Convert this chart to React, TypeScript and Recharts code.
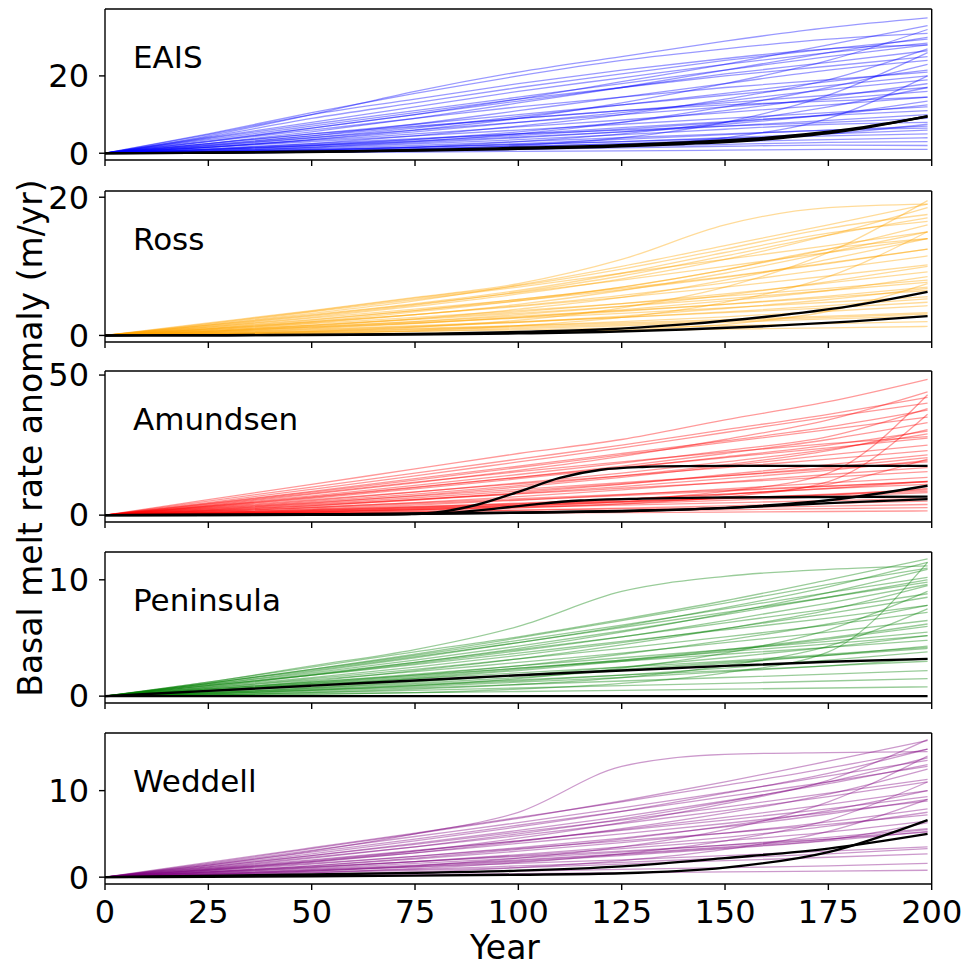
import React from 'react';
import { LineChart, Line, XAxis, YAxis, ReferenceLine } from 'recharts';

const years = [0, 25, 50, 75, 100, 125, 150, 175, 199];
const xTicks = [0, 25, 50, 75, 100, 125, 150, 175, 200];

const eaisRuns = [
  [0, 4.5, 10, 16, 21, 25, 29, 32.5, 35],
  [0, 5, 10.5, 15.5, 20, 24, 27, 29.5, 31],
  [0, 3, 6.5, 10, 14, 18.5, 23, 28, 33],
  [0, 2.5, 5.5, 9, 13, 17, 21.5, 26, 30],
  [0, 4, 8, 12, 16, 19.5, 23, 26, 28.5],
  [0, 1.5, 3.5, 6, 9, 13, 18, 24, 32],
  [0, 3.5, 7, 10.5, 14, 17, 20, 22.5, 25],
  [0, 2, 4.5, 7.5, 11, 14.5, 18, 21.5, 24],
  [0, 2.5, 5, 7.5, 10, 12.5, 15, 17.5, 20],
  [0, 1, 2.5, 4.5, 7, 10, 14, 19, 27],
  [0, 3, 6, 9, 12, 14.5, 17, 19, 21],
  [0, 1.5, 3.5, 5.5, 8, 10.5, 13.5, 16.5, 19],
  [0, 2, 4, 6, 8, 10, 12, 14, 16],
  [0, 0.5, 1.5, 3, 5, 8, 12, 17, 23],
  [0, 1.5, 3, 4.5, 6, 7.5, 9, 10.5, 12],
  [0, 2.5, 5, 7, 9, 11, 12.5, 13.5, 14.5],
  [0, 1, 2.2, 3.6, 5, 6.6, 8.2, 9.8, 11],
  [0, 0.8, 2, 3.5, 5.5, 8, 11, 14.5, 18],
  [0, 1.2, 2.5, 3.8, 5, 6, 7, 8, 9],
  [0, 0.6, 1.4, 2.4, 3.5, 4.8, 6.2, 7.5, 8],
  [0, 0.5, 1.2, 2, 3, 4, 5, 6, 7],
  [0, 0.3, 0.8, 1.5, 2.5, 3.6, 4.8, 6, 6.5],
  [0, 0.4, 1, 1.6, 2.3, 3, 3.8, 4.5, 5],
  [0, 0.3, 0.7, 1.2, 1.8, 2.4, 3, 3.5, 4],
  [0, 0.2, 0.5, 0.9, 1.3, 1.8, 2.3, 2.8, 3],
  [0, 0.1, 0.3, 0.6, 1, 1.4, 1.8, 2.1, 2],
  [0, 0.1, 0.2, 0.3, 0.5, 0.6, 0.8, 1, 1],
  [0, 0.2, 0.5, 1, 2, 4, 8, 15, 26],
  [0, 0.1, 0.3, 0.6, 1, 2, 4, 9, 20],
  [0, 4.2, 9, 13, 17, 20.5, 24, 27, 29.5],
  [0, 3.2, 6.5, 10, 13.5, 17, 20.5, 23.5, 26.5],
  [0, 1.8, 4, 6.5, 9.5, 12.5, 15.5, 18.5, 21.5],
  [0, 1, 2, 3.2, 4.6, 6.2, 8, 10, 12.5],
  [0, 2.2, 4.5, 6.8, 9, 11, 13, 15, 17],
  [0, 0.7, 1.6, 2.7, 4, 5.5, 7.5, 10, 13.5],
  [0, 4.8, 10, 14, 18, 21.5, 24.5, 27, 28],
  [0, 0.3, 0.8, 1.6, 3, 5, 8, 12, 17],
  [0, 3.8, 7.5, 11, 14.5, 18, 21.5, 25, 28],
  [0, 0.9, 1.9, 3, 4.2, 5.5, 7, 8.5, 10],
  [0, 0.4, 0.9, 1.5, 2.2, 3, 4, 5, 6],
  [0, 1.6, 3.3, 5, 6.8, 8.6, 10.5, 12.5, 14.5],
  [0, 0.2, 0.6, 1.1, 1.7, 2.5, 3.5, 5, 7.5],
];

const rossRuns = [
  [0, 1.8, 3.6, 5.5, 7.5, 11, 16, 18.5, 19],
  [0, 1.5, 3.2, 5, 7.3, 10, 13, 16, 19],
  [0, 1.2, 2.6, 4.2, 6, 8.2, 11, 14.5, 18.5],
  [0, 1.6, 3.4, 5.2, 7, 9, 11, 13, 15],
  [0, 1, 2.2, 3.6, 5.2, 7, 9.5, 12.5, 16],
  [0, 0.8, 1.8, 3, 4.5, 6.5, 9, 12, 15],
  [0, 1.2, 2.5, 3.8, 5.2, 6.8, 8.5, 10.5, 12.5],
  [0, 0.6, 1.4, 2.4, 3.8, 5.5, 8, 11, 14],
  [0, 1, 2, 3, 4.2, 5.5, 7, 8.6, 10.2],
  [0, 0.5, 1.2, 2, 3, 4.2, 5.8, 7.8, 10],
  [0, 0.8, 1.7, 2.6, 3.6, 4.6, 5.7, 6.8, 8],
  [0, 0.4, 1, 1.7, 2.6, 3.7, 5, 6.5, 8.5],
  [0, 0.6, 1.3, 2, 2.8, 3.6, 4.5, 5.5, 6.5],
  [0, 0.3, 0.7, 1.2, 1.9, 2.8, 3.9, 5.2, 6.8],
  [0, 0.4, 0.9, 1.4, 2, 2.6, 3.3, 4, 4.8],
  [0, 0.2, 0.5, 0.9, 1.4, 2, 2.7, 3.5, 4.3],
  [0, 0.3, 0.6, 1, 1.4, 1.8, 2.3, 2.8, 3.3],
  [0, 0.1, 0.3, 0.6, 1, 1.4, 1.9, 2.4, 2.8],
  [0, 0.2, 0.4, 0.6, 0.8, 1.1, 1.4, 1.7, 2],
  [0, 0.1, 0.2, 0.3, 0.5, 0.7, 0.9, 1.1, 1.3],
  [0, 0.2, 0.6, 1.2, 2.2, 4, 7, 12, 19.5],
  [0, 0.1, 0.3, 0.7, 1.4, 2.6, 4.8, 8.5, 15],
  [0, 1.4, 2.9, 4.5, 6.2, 8, 10, 12, 14],
  [0, 0.9, 1.9, 3, 4.3, 5.8, 7.6, 9.6, 11.5],
  [0, 1.1, 2.3, 3.6, 5, 6.6, 8.4, 10.4, 12.5],
  [0, 0.7, 1.5, 2.4, 3.4, 4.6, 6, 7.6, 9.2],
  [0, 1.7, 3.5, 5.4, 7.2, 9.6, 12.5, 15.5, 17.5],
  [0, 1.3, 2.8, 4.4, 6.3, 8.6, 11.5, 14.5, 17],
  [0, 0.5, 1.1, 1.8, 2.6, 3.5, 4.5, 5.7, 7],
  [0, 0.05, 0.1, 0.2, 0.4, 0.8, 1.6, 3.5, 7.5],
  [0, 0.9, 2, 3.4, 5, 7, 9.5, 12.5, 14],
  [0, 1.5, 3, 4.6, 6.5, 9, 12, 14.8, 16.5],
  [0, 0.2, 0.5, 0.8, 1.2, 1.6, 2.1, 2.6, 3.1],
  [0, 0.6, 1.2, 1.8, 2.5, 3.2, 4, 4.8, 5.6],
  [0, 0.35, 0.8, 1.3, 1.9, 2.6, 3.4, 4.3, 5.3],
  [0, 0.7, 1.5, 2.3, 3.2, 4.2, 5.3, 6.5, 7.7],
];

const amundsenRuns = [
  [0, 5.5, 11, 16.5, 22, 27, 34, 40.5, 48.5],
  [0, 5, 10, 15, 20, 25, 30.5, 36, 42],
  [0, 4.5, 9.2, 14, 19, 24, 29.5, 35, 40],
  [0, 3.5, 7.5, 11.5, 16, 21, 27, 34, 44],
  [0, 4, 8.2, 12.5, 17, 21.5, 26, 30.5, 35],
  [0, 3, 6.3, 9.8, 13.5, 17.5, 22, 27, 33],
  [0, 2.5, 5.2, 8.2, 11.5, 15, 19, 23.5, 29],
  [0, 3.2, 6.5, 10, 13.5, 17, 20.5, 24, 27.5],
  [0, 2, 4.3, 7, 10, 13.5, 17.5, 21.5, 25],
  [0, 2.7, 5.5, 8.3, 11.2, 14, 17, 20, 23],
  [0, 1.5, 3.3, 5.5, 8, 11, 14.5, 18, 21.5],
  [0, 2.2, 4.5, 6.8, 9.2, 11.6, 14, 16.5, 19],
  [0, 1.2, 2.7, 4.5, 6.6, 9, 11.8, 14.5, 17],
  [0, 1.8, 3.7, 5.6, 7.6, 9.6, 11.6, 13.6, 15.5],
  [0, 1, 2.2, 3.6, 5.3, 7.2, 9.4, 11.5, 13.5],
  [0, 1.4, 2.9, 4.4, 5.9, 7.4, 8.9, 10.4, 12],
  [0, 0.7, 1.6, 2.7, 4, 5.6, 7.5, 9.5, 11],
  [0, 1, 2, 3, 4, 5, 6.1, 7.2, 8.5],
  [0, 0.5, 1.1, 1.9, 2.9, 4, 5.3, 6.6, 8],
  [0, 0.6, 1.3, 2, 2.8, 3.6, 4.4, 5.2, 6],
  [0, 0.3, 0.7, 1.2, 1.8, 2.5, 3.3, 4.2, 5],
  [0, 0.4, 0.8, 1.2, 1.7, 2.2, 2.7, 3.2, 3.8],
  [0, 0.2, 0.5, 0.8, 1.1, 1.5, 1.9, 2.3, 2.7],
  [0, 0.1, 0.3, 0.5, 0.7, 0.9, 1.1, 1.3, 1.5],
  [0, 0.3, 0.8, 1.5, 2.5, 4, 6.5, 12, 36],
  [0, 0.5, 1.2, 2.2, 3.6, 5.5, 8.5, 15, 43],
  [0, 0.4, 1, 1.9, 3.1, 4.8, 7.2, 11, 20],
  [0, 2.3, 4.8, 7.5, 10.5, 14, 18, 23, 30.5],
  [0, 3.8, 7.8, 11.8, 15.5, 19, 22.5, 25.5, 28],
  [0, 1.6, 3.4, 5.4, 7.7, 10.2, 13, 16, 19.5],
  [0, 0.9, 1.9, 3, 4.3, 5.8, 7.5, 9.5, 12],
  [0, 4.2, 8.5, 13, 17.5, 22, 26.5, 31.5, 37.5],
  [0, 2.9, 6, 9.4, 13, 16.8, 20.8, 25, 30],
  [0, 1.3, 2.6, 4, 5.5, 7, 8.6, 10.3, 12],
  [0, 0.8, 1.7, 2.6, 3.6, 4.7, 5.9, 7.2, 9.5],
  [0, 3.3, 6.9, 10.6, 14.5, 18.6, 23, 28, 38],
  [0, 0.6, 1.4, 2.3, 3.4, 4.6, 6, 7.5, 9],
  [0, 1.9, 4, 6.2, 8.6, 11.2, 14, 17, 20.5],
];

const peninsulaRuns = [
  [0, 1.2, 2.6, 4, 6, 9, 10.3, 10.9, 11.2],
  [0, 1.2, 2.5, 3.8, 5.1, 6.6, 8.2, 10, 11.8],
  [0, 1, 2.1, 3.3, 4.6, 6, 7.6, 9.4, 11.5],
  [0, 1.1, 2.3, 3.5, 4.8, 6.1, 7.5, 8.9, 10.2],
  [0, 0.8, 1.8, 2.9, 4.1, 5.5, 7.1, 8.9, 10.9],
  [0, 0.9, 1.9, 2.9, 4, 5.1, 6.3, 7.5, 8.8],
  [0, 0.6, 1.3, 2.2, 3.2, 4.4, 5.8, 7.4, 9.5],
  [0, 0.7, 1.5, 2.3, 3.2, 4.1, 5.1, 6.1, 7.2],
  [0, 0.5, 1.1, 1.8, 2.6, 3.6, 4.8, 6.2, 7.8],
  [0, 0.6, 1.2, 1.9, 2.6, 3.3, 4, 4.7, 5.5],
  [0, 0.4, 0.9, 1.5, 2.2, 3, 3.9, 4.9, 6],
  [0, 0.5, 1, 1.5, 2, 2.5, 3, 3.6, 4.2],
  [0, 0.3, 0.7, 1.1, 1.6, 2.2, 2.8, 3.5, 4.3],
  [0, 0.3, 0.6, 1, 1.4, 1.8, 2.2, 2.6, 3],
  [0, 0.2, 0.4, 0.7, 1, 1.3, 1.6, 1.9, 2.2],
  [0, 0.1, 0.3, 0.5, 0.7, 0.9, 1.1, 1.3, 1.5],
  [0, 0.1, 0.2, 0.3, 0.4, 0.5, 0.6, 0.7, 0.8],
  [0, 0.2, 0.5, 0.9, 1.5, 2.4, 3.7, 5.7, 9],
  [0, 0.1, 0.3, 0.6, 1, 1.6, 2.6, 4.3, 7.5],
  [0, 0.05, 0.15, 0.3, 0.6, 1.1, 2, 3.8, 11.5],
  [0, 1.1, 2.2, 3.4, 4.6, 5.9, 7.2, 8.5, 9.8],
  [0, 0.9, 1.8, 2.7, 3.7, 4.7, 5.7, 6.7, 7.8],
  [0, 0.7, 1.4, 2.1, 2.9, 3.7, 4.6, 5.5, 6.5],
  [0, 0.8, 1.6, 2.5, 3.5, 4.6, 5.8, 7.1, 8.5],
  [0, 0.4, 0.8, 1.3, 1.8, 2.3, 2.9, 3.5, 4.1],
  [0, 1, 2, 3.1, 4.3, 5.6, 7, 8.5, 10],
  [0, 0.5, 1.1, 1.7, 2.4, 3.1, 3.8, 4.5, 5.2],
  [0, 0.3, 0.7, 1.2, 1.8, 2.5, 3.3, 4.2, 5.2],
  [0, 1.1, 2.3, 3.6, 5, 6.5, 8, 9.6, 11],
  [0, 0.6, 1.2, 1.8, 2.4, 3, 3.6, 4.2, 4.8],
  [0, 0.9, 1.8, 2.8, 3.9, 5.1, 6.5, 8, 9.6],
  [0, 0.2, 0.5, 0.8, 1.2, 1.6, 2.1, 2.6, 3.2],
  [0, 0.45, 1, 1.6, 2.3, 3.1, 4, 5, 6.2],
  [0, 0.25, 0.55, 0.9, 1.3, 1.8, 2.4, 3.1, 3.8],
];

const weddellRuns = [
  [0, 1.4, 3, 5, 7.5, 12.8, 14.2, 14.4, 14.5],
  [0, 1.6, 3.3, 5, 6.8, 8.8, 11, 13.4, 15.8],
  [0, 1.3, 2.7, 4.2, 5.8, 7.6, 9.7, 12, 14.8],
  [0, 1.5, 3.1, 4.7, 6.3, 8, 9.8, 11.7, 13.5],
  [0, 1, 2.2, 3.5, 5, 6.7, 8.7, 11, 13.8],
  [0, 1.2, 2.5, 3.8, 5.2, 6.6, 8.1, 9.7, 11.3],
  [0, 0.8, 1.7, 2.8, 4.1, 5.6, 7.4, 9.6, 12.5],
  [0, 1, 2, 3.1, 4.2, 5.4, 6.6, 7.9, 9.3],
  [0, 0.6, 1.3, 2.2, 3.2, 4.4, 5.9, 7.7, 10],
  [0, 0.8, 1.6, 2.4, 3.3, 4.2, 5.1, 6.1, 7.2],
  [0, 0.5, 1.1, 1.8, 2.6, 3.5, 4.6, 5.9, 7.5],
  [0, 0.6, 1.2, 1.8, 2.4, 3, 3.7, 4.4, 5.2],
  [0, 0.3, 0.7, 1.2, 1.8, 2.5, 3.3, 4.2, 5.3],
  [0, 0.4, 0.8, 1.2, 1.6, 2, 2.5, 3, 3.5],
  [0, 0.2, 0.5, 0.8, 1.1, 1.5, 1.9, 2.3, 2.7],
  [0, 0.1, 0.3, 0.5, 0.7, 0.9, 1.1, 1.3, 1.6],
  [0, 0.1, 0.2, 0.3, 0.4, 0.5, 0.6, 0.7, 0.8],
  [0, 0.2, 0.5, 1, 1.7, 2.7, 4.2, 6.6, 11],
  [0, 0.3, 0.7, 1.3, 2.2, 3.5, 5.5, 8.7, 14],
  [0, 0.1, 0.3, 0.6, 1.1, 1.9, 3.2, 5.3, 9],
  [0, 1.4, 2.9, 4.4, 6, 7.6, 9.3, 11, 12.8],
  [0, 1.1, 2.3, 3.5, 4.8, 6.2, 7.7, 9.3, 11],
  [0, 0.9, 1.8, 2.8, 3.9, 5, 6.2, 7.5, 8.8],
  [0, 0.7, 1.5, 2.4, 3.4, 4.5, 5.8, 7.3, 9],
  [0, 0.5, 1, 1.6, 2.2, 2.9, 3.7, 4.6, 5.6],
  [0, 1.2, 2.5, 3.9, 5.4, 7, 8.8, 10.8, 13],
  [0, 0.4, 0.9, 1.4, 2, 2.7, 3.5, 4.4, 5.5],
  [0, 0.6, 1.3, 2.1, 3, 4, 5.1, 6.4, 7.9],
  [0, 1.7, 3.4, 5.1, 6.9, 8.7, 10.6, 12.6, 14.8],
  [0, 0.3, 0.6, 0.9, 1.3, 1.7, 2.2, 2.7, 3.3],
  [0, 0.9, 1.9, 3, 4.2, 5.5, 6.9, 8.4, 10],
  [0, 0.8, 1.8, 3, 4.5, 6.3, 8.5, 11.2, 15.9],
  [0, 0.35, 0.8, 1.3, 1.9, 2.6, 3.4, 4.3, 6.3],
  [0, 0.55, 1.15, 1.8, 2.5, 3.3, 4.2, 5.2, 6.5],
];

// Black highlighted runs: each with its own year grid
const eaisBlack = [
  { years: [0, 20, 40, 60, 80, 100, 120, 140, 160, 180, 199], values: [0, 0.1, 0.3, 0.55, 0.9, 1.4, 1.9, 2.8, 4.0, 6.2, 9.5] },
  { years: [0, 20, 40, 60, 80, 100, 120, 140, 160, 180, 199], values: [0, 0.08, 0.25, 0.45, 0.75, 1.15, 1.6, 2.4, 3.6, 5.9, 9.6] },
];
const rossBlack = [
  { years: [0, 20, 40, 60, 80, 100, 120, 140, 160, 180, 199], values: [0, 0.02, 0.06, 0.12, 0.25, 0.5, 0.85, 1.6, 2.7, 4.2, 6.3] },
  { years: [0, 20, 40, 60, 80, 100, 120, 140, 160, 180, 199], values: [0, 0.02, 0.05, 0.1, 0.18, 0.3, 0.5, 0.85, 1.35, 2.0, 2.8] },
];
const amundsenBlack = [
  { years: [0, 25, 50, 70, 80, 90, 100, 110, 120, 130, 140, 160, 180, 199], values: [0, 0.05, 0.1, 0.3, 1.0, 3.7, 8.3, 13.3, 16.2, 17.2, 17.5, 17.6, 17.6, 17.6] },
  { years: [0, 25, 50, 75, 85, 95, 105, 115, 130, 150, 175, 199], values: [0, 0.05, 0.15, 0.4, 1.0, 2.4, 4.0, 5.2, 5.9, 6.3, 6.5, 6.6] },
  { years: [0, 25, 50, 75, 100, 125, 150, 175, 199], values: [0, 0.1, 0.25, 0.5, 0.9, 1.5, 2.6, 5.3, 10.5] },
  { years: [0, 25, 50, 75, 100, 125, 150, 175, 199], values: [0, 0.1, 0.25, 0.5, 0.85, 1.4, 2.5, 4.3, 5.7] },
];
const peninsulaBlack = [
  { years: [0, 25, 50, 75, 100, 125, 150, 175, 199], values: [0, 0.45, 0.9, 1.35, 1.8, 2.2, 2.6, 2.95, 3.2] },
  { years: [0, 25, 50, 75, 100, 125, 150, 175, 199], values: [0, 0, 0, 0, 0, 0, 0, 0, 0] },
];
const weddellBlack = [
  { years: [0, 25, 50, 75, 100, 125, 150, 175, 199], values: [0, 0.15, 0.3, 0.5, 0.75, 1.25, 2.2, 3.3, 5.0] },
  { years: [0, 25, 50, 75, 100, 125, 150, 175, 199], values: [0, 0.05, 0.1, 0.18, 0.28, 0.45, 1.1, 2.9, 6.6] },
];

const regionNames = ['EAIS', 'Ross', 'Amundsen', 'Peninsula', 'Weddell'];
const regionColors = ['#0000ff', '#ffa500', '#ff0000', '#008000', '#800080'];
const regionRuns = [eaisRuns, rossRuns, amundsenRuns, peninsulaRuns, weddellRuns];
const regionBlack = [eaisBlack, rossBlack, amundsenBlack, peninsulaBlack, weddellBlack];
const regionDomains: [number, number][] = [[-1.75, 37.3], [-0.95, 20.9], [-2.45, 51.45], [-0.59, 12.39], [-0.79, 16.66]];
const regionTicks = [[0, 20], [0, 20], [0, 50], [0, 10], [0, 10]];

const PANEL_TOPS = [9, 190.5, 371, 552, 733];
const PLOT_H = 151;
const FONT = "'DejaVu Sans', sans-serif";
const FS = 32;
const FS_TITLE = 33;
const FS_REGION = 31;

function buildRows(runs: number[][]) {
  return years.map((y, i) => {
    const r: Record<string, number> = { year: y };
    runs.forEach((run, k) => {
      r['s' + k] = run[i];
    });
    return r;
  });
}

function Panel({ idx }: { idx: number }) {
  const last = idx === 4;
  const xH = last ? 80 : 14;
  const mt = 24;
  const h = mt + PLOT_H + xH;
  const runs = regionRuns[idx];
  const rows = buildRows(runs);
  const domain = regionDomains[idx];
  const axisStyle = { stroke: '#000', strokeWidth: 1.4 };
  return (
    <div style={{ position: 'absolute', left: 0, top: PANEL_TOPS[idx] - mt }}>
      <LineChart width={966} height={h} data={rows} margin={{ top: mt, right: 34.3, bottom: 0, left: 0 }}>
        <XAxis
          dataKey="year"
          type="number"
          domain={[0, 200]}
          ticks={xTicks}
          interval={0}
          height={xH}
          tickSize={6}
          tickMargin={10}
          allowDataOverflow
          axisLine={axisStyle}
          tickLine={axisStyle}
          tick={{ fill: '#000', fontSize: FS, fontFamily: FONT }}
          tickFormatter={last ? (v: number) => String(v) : () => ''}
        />
        <YAxis
          type="number"
          domain={domain}
          ticks={regionTicks[idx]}
          interval={0}
          width={105}
          tickSize={6}
          tickMargin={10}
          allowDataOverflow
          axisLine={axisStyle}
          tickLine={axisStyle}
          tick={{ fill: '#000', fontSize: FS, fontFamily: FONT }}
        />
        {runs.map((_, k) => (
          <Line
            key={'s' + k}
            dataKey={'s' + k}
            type="monotone"
            stroke={regionColors[idx]}
            strokeOpacity={0.4}
            strokeWidth={1.3}
            dot={false}
            activeDot={false}
            isAnimationActive={false}
          />
        ))}
        {regionBlack[idx].map((b, k) => (
          <Line
            key={'b' + k}
            data={b.years.map((y, i) => ({ year: y, v: b.values[i] }))}
            dataKey="v"
            type="monotone"
            stroke="#000"
            strokeWidth={2.4}
            dot={false}
            activeDot={false}
            isAnimationActive={false}
          />
        ))}
        <ReferenceLine y={domain[1]} stroke="#000" strokeWidth={1.4} ifOverflow="visible" />
        <ReferenceLine x={200} stroke="#000" strokeWidth={1.4} ifOverflow="visible" />
      </LineChart>
    </div>
  );
}

export default function App() {
  return (
    <div style={{ position: 'absolute', left: 0, top: 0, width: 966, height: 968, background: '#fff', fontFamily: FONT }}>
      {regionNames.map((_, i) => (
        <Panel key={i} idx={i} />
      ))}
      <svg width={966} height={968} style={{ position: 'absolute', left: 0, top: 0, pointerEvents: 'none' }}>
        {regionNames.map((n, i) => (
          <text key={n} x={133} y={PANEL_TOPS[i] + 59} fontSize={FS_REGION} fontFamily={FONT} fill="#000">
            {n}
          </text>
        ))}
        <text transform="rotate(-90)" x={-438} y={42} textAnchor="middle" fontSize={FS_TITLE} fontFamily={FONT} fill="#000">
          Basal melt rate anomaly (m/yr)
        </text>
        <text x={505} y={959} textAnchor="middle" fontSize={FS_TITLE} fontFamily={FONT} fill="#000">
          Year
        </text>
      </svg>
    </div>
  );
}
